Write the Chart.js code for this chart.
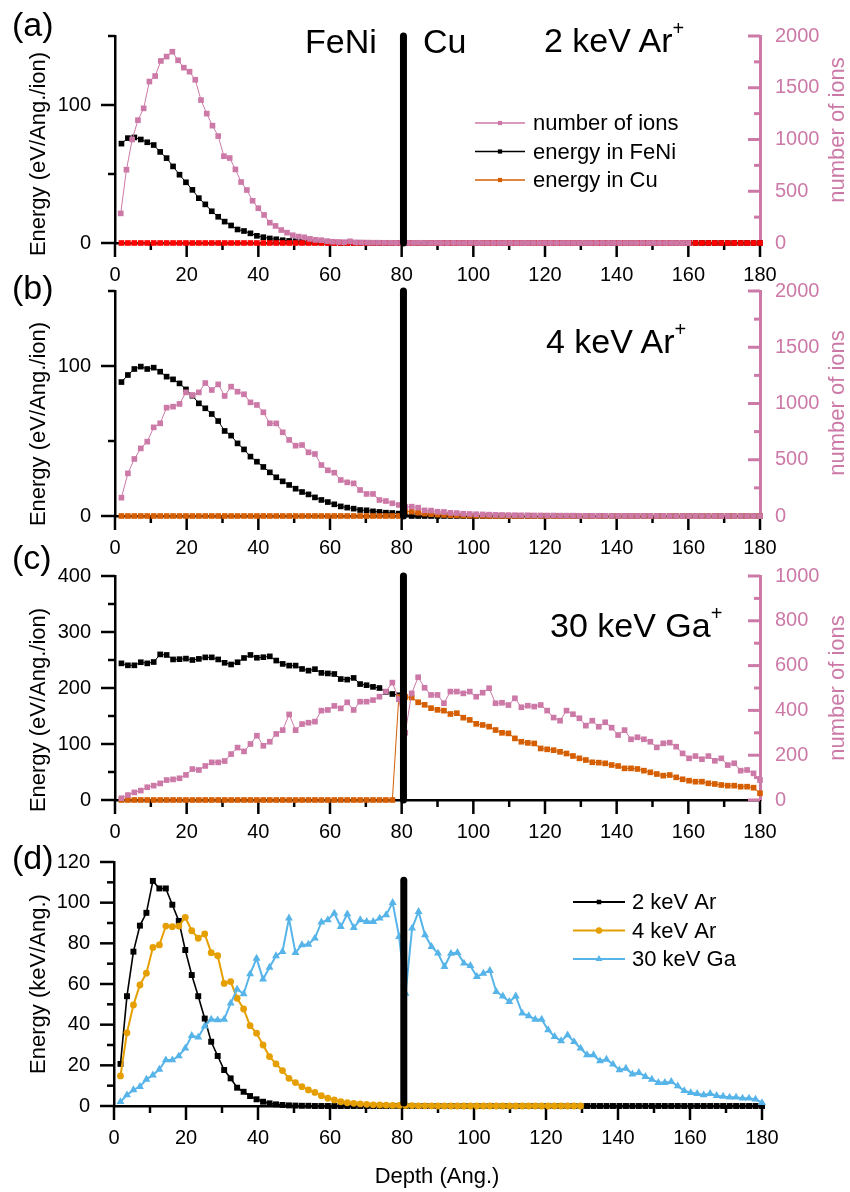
<!DOCTYPE html>
<html>
<head>
<meta charset="utf-8">
<script src="https://cdn.jsdelivr.net/npm/chart.js@4.4.1/dist/chart.umd.min.js"></script>
<style>
html,body{margin:0;padding:0;background:#fff;}
#fig{position:relative;width:850px;height:1192px;overflow:hidden;font-family:"Liberation Sans",Arial,sans-serif;}
#fig canvas{position:absolute;left:0;top:0;}
.t{position:absolute;white-space:nowrap;line-height:1;color:#000;}
.rot{transform:translate(-50%,-50%) rotate(-90deg);font-size:22px;}
.pk{color:#CC79A7;}
</style>
</head>
<body>
<div id="fig">
  <canvas id="pa" width="850" height="1192"></canvas>
  <canvas id="pb" width="850" height="1192"></canvas>
  <canvas id="pc" width="850" height="1192"></canvas>
  <canvas id="pd" width="850" height="1192"></canvas>

  <div class="t" style="left:12px;top:7.2px;font-size:34px;">(a)</div>
  <div class="t" style="left:12px;top:270.2px;font-size:34px;">(b)</div>
  <div class="t" style="left:12px;top:540.2px;font-size:34px;">(c)</div>
  <div class="t" style="left:12px;top:840.2px;font-size:34px;">(d)</div>

  <div class="t" style="left:305px;top:24.2px;font-size:34px;">FeNi</div>
  <div class="t" style="left:423px;top:24.2px;font-size:34px;">Cu</div>
  <div class="t" style="left:544px;top:23.2px;font-size:34px;">2 keV Ar<span style="font-size:20px;position:relative;top:-17px;">+</span></div>
  <div class="t" style="left:546px;top:324.2px;font-size:34px;">4 keV Ar<span style="font-size:20px;position:relative;top:-17px;">+</span></div>
  <div class="t" style="left:550px;top:608.2px;font-size:34px;">30 keV Ga<span style="font-size:20px;position:relative;top:-17px;">+</span></div>

  <div class="t rot" style="left:38px;top:154px;">Energy (eV/Ang./ion)</div>
  <div class="t rot" style="left:38px;top:424px;">Energy (eV/Ang./ion)</div>
  <div class="t rot" style="left:38px;top:710px;">Energy (eV/Ang./ion)</div>
  <div class="t rot" style="left:38px;top:984px;">Energy (keV/Ang.)</div>

  <div class="t rot pk" style="left:837px;top:130px;">number of ions</div>
  <div class="t rot pk" style="left:837px;top:403px;">number of ions</div>
  <div class="t rot pk" style="left:837px;top:688px;">number of ions</div>

  <div class="t" style="left:437px;top:1165.4px;font-size:22px;transform:translateX(-50%);">Depth (Ang.)</div>
</div>

<script>
// ---- depth bins (Ang.) ----
const depthBins18 = [1.8,3.6,5.4,7.2,9,10.8,12.6,14.4,16.2,18,
  19.8,21.6,23.4,25.2,27,28.8,30.6,32.4,34.2,36,
  37.8,39.6,41.4,43.2,45,46.8,48.6,50.4,52.2,54,
  55.8,57.6,59.4,61.2,63,64.8,66.6,68.4,70.2,72,
  73.8,75.6,77.4,79.2,81,82.8,84.6,86.4,88.2,90,
  91.8,93.6,95.4,97.2,99,100.8,102.6,104.4,106.2,108,
  109.8,111.6,113.4,115.2,117,118.8,120.6,122.4,124.2,126,
  127.8,129.6,131.4,133.2,135,136.8,138.6,140.4,142.2,144,
  145.8,147.6,149.4,151.2,153,154.8,156.6,158.4,160.2,162,
  163.8,165.6,167.4,169.2,171,172.8,174.6,176.4,178.2,180];
const depthBins16 = [1.6,3.2,4.8,6.4,8,9.6,11.2,12.8,14.4,16,
  17.6,19.2,20.8,22.4,24,25.6,27.2,28.8,30.4,32,
  33.6,35.2,36.8,38.4,40,41.6,43.2,44.8,46.4,48,
  49.6,51.2,52.8,54.4,56,57.6,59.2,60.8,62.4,64,
  65.6,67.2,68.8,70.4,72,73.6,75.2,76.8,78.4,80,
  81.6,83.2,84.8,86.4,88,89.6,91.2,92.8,94.4,96,
  97.6,99.2,100.8,102.4,104,105.6,107.2,108.8,110.4,112,
  113.6,115.2,116.8,118.4,120,121.6,123.2,124.8,126.4,128,
  129.6,131.2,132.8,134.4,136,137.6,139.2,140.8,142.4,144,
  145.6,147.2,148.8,150.4,152,153.6,155.2,156.8,158.4,160];

// ---- tick values ----
const depthTicks = [0,20,40,60,80,100,120,140,160,180];
const depthMinor = [10,30,50,70,90,110,130,150,170];
const energyTicksAB = [0,100];
const energyMinorAB = [50,150];
const ionTicksAB = [0,500,1000,1500,2000];
const ionMinorAB = [250,750,1250,1750];
const energyTicksC = [0,100,200,300,400];
const energyMinorC = [50,150,250,350];
const ionTicksC = [0,200,400,600,800,1000];
const ionMinorC = [100,300,500,700,900];
const energyTicksD = [0,20,40,60,80,100,120];
const energyMinorD = [10,30,50,70,90,110];

// FeNi / Cu interface
const interfaceDepth = 80.5;
const interfaceSpanAB = [0,150];
const interfaceSpanC = [0,400];
const interfaceSpanD = [1.5,111];

// ---- (a) 2 keV Ar+ ----
const feniA = [72,76,76.5,75,73,71,66,61.5,55.5,49.5,
  44,38.5,32.5,28,23,19,15.5,12.7,9.8,8.7,
  7,5.2,4.2,3.3,2.7,2,1.5,1.3,1,0.7,
  0.5,0.4,0.3,0.2,0.1,0.1,0,0,0,0,
  0,0,0,0,0,0,0,0,0,0,
  0,0,0,0,0,0,0,0,0,0,
  0,0,0,0,0,0,0,0,0,0,
  0,0,0,0,0,0,0,0,0,0,
  0,0,0,0,0,0,0,0,0,0,
  0,0,0,0,0,0,0,0,0,0];
const cuA = [0,0,0,0,0,0,0,0,0,0,
  0,0,0,0,0,0,0,0,0,0,
  0,0,0,0,0,0,0,0,0,0,
  0,0,0,0,0,0,0,0,0,0,
  0,0,0,0,0,0,0,0,0,0,
  0,0,0,0,0,0,0,0,0,0,
  0,0,0,0,0,0,0,0,0,0,
  0,0,0,0,0,0,0,0,0,0,
  0,0,0,0,0,0,0,0,0,0,
  0,0,0,0,0,0,0,0,0,0];
const ionsA = [286,708,1000,1187,1301,1560,1613,1759,1801,1848,
  1765,1694,1655,1577,1381,1250,1134,1033,839,821,
  711,589,512,408,336,271,196,165,125,100,
  75,62,55,40,30,27,18,12,10,8,
  16,6,5,4,3,3,2,2,1,2,
  1,1,2,1,0,1,0,0,1,0,
  0,1,0,0,0,0,0,0,0,0,
  0,0,0,0,0,0,0,0,0,0,
  0,0,0,0,0,0,0,0,0,0,
  0,0,0,0,0,0,0,0,0,0];

// ---- (b) 4 keV Ar+ ----
const feniB = [89.3,94,98,99.6,98,98.9,96.2,92.9,91.1,88.4,
  84.4,80.2,75.1,71.8,68,63.3,56.7,53.6,48.4,44.4,
  39.6,36.2,32.7,29.1,25.8,23.1,20.7,18.2,16,14.4,
  12.4,10.7,9.3,7.8,6.4,5.6,4.9,4,3.8,3.1,
  2.7,2.2,2,1.6,1.2,0,0,0,0,0,
  0,0,0,0,0,0,0,0,0,0,
  0,0,0,0,0,0,0,0,0,0,
  0,0,0,0,0,0,0,0,0,0,
  0,0,0,0,0,0,0,0,0,0,
  0,0,0,0,0,0,0,0,0,0];
const cuB = [0,0,0,0,0,0,0,0,0,0,
  0,0,0,0,0,0,0,0,0,0,
  0,0,0,0,0,0,0,0,0,0,
  0,0,0,0,0,0,0,0,0,0,
  0,0,0,0,3,2.9,2.2,1.6,1.2,0.9,
  0.7,0.5,0.4,0.3,0.2,0.2,0.1,0,0,0,
  0,0,0,0,0,0,0,0,0,0,
  0,0,0,0,0,0,0,0,0,0,
  0,0,0,0,0,0,0,0,0,0,
  0,0,0,0,0,0,0,0,0,0];
const ionsB = [163,379,507,601,661,788,824,963,972,996,
  1099,1075,1099,1182,1120,1170,1067,1150,1105,1082,
  1010,987,922,824,823,744,676,625,631,566,
  551,453,406,385,320,299,290,231,196,196,
  142,133,113,98,80,83,74,50,48,38,
  36,28,26,20,18,16,14,12,10,9,
  8,7,6,6,5,5,4,4,3,3,
  3,2,2,2,2,2,1,1,1,1,
  1,1,1,1,1,0,0,0,0,0,
  0,0,0,0,0,0,0,0,0,0];

// ---- (c) 30 keV Ga+ ----
const feniC = [244,240.5,240.5,246,244,246.4,260,259,251,251.5,
  252.5,250,252,254.7,254.7,251,245,242,246,253.6,
  259,254,255,256.5,249,243,240,240,234,231,
  233.6,227,226,225,216,215,218,207,205,202,
  200,193,189.3,187];
const cuC = [0,0,0,0,0,0,0,0,0,0,
  0,0,0,0,0,0,0,0,0,0,
  0,0,0,0,0,0,0,0,0,0,
  0,0,0,0,0,0,0,0,0,0,
  0,0,0,184,184,183,174.5,170,164,161,
  159.5,153.6,155,147,143,136,134,131,125,120,
  119,110,104,102,101,92,90.5,89,86,83,
  78.6,74.4,71.4,67.3,66.7,65.5,62.5,60.7,56.5,56.5,
  55.4,52.4,49.4,46.4,43.5,44.6,40.5,37,34.5,32.7,
  32.7,29.8,28.6,26.8,25.6,25.6,23.8,23.8,22,12];
const ionsC = [8,22,34,42,57,64,74,89,92,97,
  112,138,134,152,168,168,174,205,234,217,
  250,287,242,260,295,312,382,312,339,345,
  350,399,402,420,409,436,402,439,439,446,
  461,484,524,450,300,476,548,501,469,469,
  432,484,484,476,484,461,479,499,432,434,
  424,454,414,421,417,424,399,368,354,399,
  383,365,332,354,327,347,323,290,312,271,
  280,271,260,235,253,256,238,208,186,196,
  182,196,175,186,156,164,131,134,119,89];

// ---- (d) deposited energy per ion species ----
const ar2keV = [20.7,54,75.9,88.7,95,110.7,107,107,99,91,
  76.7,64.4,54,43,31.6,24.6,17.7,13.6,9,7,
  4.9,3.3,2.1,1.3,0.8,0.5,0.3,0.2,0.1,0.1,
  0,0,0,0,0,0,0,0,0,0,
  0,0,0,0,0,0,0,0,0,0,
  0,0,0,0,0,0,0,0,0,0,
  0,0,0,0,0,0,0,0,0,0,
  0,0,0,0,0,0,0,0,0,0,
  0,0,0,0,0,0,0,0,0,0,
  0,0,0,0,0,0,0,0,0,0];
const ar4keV = [14.8,36,49.7,59.5,65.3,78,79.2,88.5,88.2,88.5,
  92.8,86.2,82.5,84.6,75.4,73.9,60.3,61.2,53,47.7,
  39.5,35.8,30,24.3,20.7,17.4,13.6,11.5,9.5,7.9,
  6.7,5.1,3.8,3,2.1,1.6,1.3,1,0.8,0.6,
  0.5,0.4,0.3,0.3,0.2,0.2,0.1,0.1,0.1,0,
  0,0,0,0,0,0,0,0,0,0,
  0,0,0,0,0,0,0,0,0,0,
  0,0];
const ga30keV = [2.1,5.4,7.9,9.5,13.1,15.2,18,22.6,22.6,24.6,
  28.4,34.6,33.8,39.3,42.6,42.3,42.6,50.5,57.4,55.1,
  64.9,72.6,62.3,68.2,73.8,75.9,92.3,75.4,79.2,79.5,
  82.5,90.4,91.5,94.8,88.2,94.4,87.7,91.5,90.7,90.7,
  92.3,94,100,83.3,55.4,87.4,95.6,84.1,78.4,75.1,
  68.5,75,75.4,70.2,69,63.6,65.2,66.6,56.2,54,
  51.3,54,45.6,44.3,42.6,42.6,37.4,34.1,32,34.9,
  31.6,28.4,25.1,25.1,22.1,22.9,20.5,17.7,18.5,15.7,
  16.4,14.4,13.1,11.5,11.5,12,9.8,7.5,6.5,6.1,
  5.4,6.1,5.1,4.7,4.3,4.3,3.8,3.8,3.3,1.6];

// ---- styling ----
const FONT = '"Liberation Sans", Arial, sans-serif';
const PINK = '#CC79A7';
const VERMILION = '#D55E00';
const RED = '#FF0000';
const ORANGE = '#E69F00';
const SKY = '#56B4E9';

const pts = (depth, values) => values.map((v, k) => ({x: depth[k], y: v}));

function fixedTicks(values) {
  return s => { s.ticks = values.map(v => ({value: v})); };
}

function depthAxis() {
  return {
    type: 'linear', position: 'bottom', min: 0, max: 180,
    grid: {display: false, drawTicks: false},
    border: {display: true, color: '#000', width: 2.5},
    afterBuildTicks: fixedTicks(depthTicks),
    afterFit: s => { s.height = 40; },
    ticks: {autoSkip: false, maxRotation: 0, padding: 20, color: '#000',
      font: {family: FONT, size: 20}, callback: v => String(v)}
  };
}

function energyAxis(max, ticks, width) {
  return {
    type: 'linear', position: 'left', min: 0, max: max,
    grid: {display: false, drawTicks: false},
    border: {display: true, color: '#000', width: 2.5},
    afterBuildTicks: fixedTicks(ticks),
    afterFit: s => { s.width = width; },
    ticks: {padding: 24, color: '#000', font: {family: FONT, size: 20}, callback: v => String(v)}
  };
}

function ionAxis(max, ticks) {
  return {
    type: 'linear', position: 'right', min: 0, max: max,
    grid: {display: false, drawTicks: false},
    border: {display: true, color: PINK, width: 3},
    afterBuildTicks: fixedTicks(ticks),
    afterFit: s => { s.width = 90; },
    ticks: {padding: 15, color: PINK, font: {family: FONT, size: 20}, callback: v => String(v)}
  };
}

function series(label, depth, values, color, extra) {
  return Object.assign({
    label: label, data: pts(depth, values),
    borderColor: color, backgroundColor: color, pointBackgroundColor: color,
    borderWidth: 1, pointBorderWidth: 0, pointStyle: 'rect', pointRadius: 4,
    clip: false, yAxisID: 'y'
  }, extra || {});
}

function interfaceLine(span) {
  return {
    label: 'interface', data: [{x: interfaceDepth, y: span[0]}, {x: interfaceDepth, y: span[1]}],
    borderColor: '#000', borderWidth: 7, borderCapStyle: 'round', pointRadius: 0,
    clip: false, yAxisID: 'y', order: 0
  };
}

// axis tick marks (major and minor) placed through the scales
function tickMarks(items) {
  return {
    id: 'tickMarks',
    beforeDatasetsDraw(chart) {
      const ctx = chart.ctx;
      items.forEach(it => {
        const s = chart.scales[it.scale];
        ctx.save();
        ctx.strokeStyle = it.color;
        ctx.lineWidth = it.width;
        it.values.forEach(v => {
          const p = s.getPixelForValue(v);
          ctx.beginPath();
          if (s.isHorizontal()) { ctx.moveTo(p, s.top); ctx.lineTo(p, s.top + it.len); }
          else if (s.position === 'left') { ctx.moveTo(s.right, p); ctx.lineTo(s.right - it.len, p); }
          else { ctx.moveTo(s.left, p); ctx.lineTo(s.left - it.len, p); }
          ctx.stroke();
        });
        ctx.restore();
      });
    }
  };
}

// line + marker series key
function seriesKey(cfg) {
  return {
    id: 'seriesKey',
    afterDraw(chart) {
      const ctx = chart.ctx;
      ctx.save();
      cfg.rows.forEach((row, k) => {
        const ds = chart.data.datasets[row.index];
        const y = cfg.y0 + k * cfg.dy;
        ctx.strokeStyle = ds.borderColor;
        ctx.lineWidth = cfg.lineWidth;
        ctx.beginPath(); ctx.moveTo(cfg.x0, y); ctx.lineTo(cfg.x1, y); ctx.stroke();
        ctx.fillStyle = row.marker || ds.borderColor;
        Chart.helpers.drawPoint(ctx, {pointStyle: ds.pointStyle, radius: row.r, borderWidth: 0, rotation: 0},
          (cfg.x0 + cfg.x1) / 2, y);
        ctx.fillStyle = '#000';
        ctx.font = '22px ' + FONT;
        ctx.textBaseline = 'middle';
        ctx.textAlign = 'left';
        ctx.fillText(ds.label, cfg.tx, y + 1);
      });
      ctx.restore();
    }
  };
}

function baseOptions(padding, scales) {
  return {
    responsive: false, animation: false, events: [], devicePixelRatio: 1,
    layout: {padding: padding},
    plugins: {legend: {display: false}, tooltip: {enabled: false}},
    scales: scales
  };
}

function standardTicks(energyMajor, energyMinor, ionMajor, ionMinor) {
  return tickMarks([
    {scale: 'x', values: depthTicks, len: 14, color: '#000', width: 2.5},
    {scale: 'x', values: depthMinor, len: 7, color: '#000', width: 2.5},
    {scale: 'y', values: energyMajor, len: 14, color: '#000', width: 2.5},
    {scale: 'y', values: energyMinor, len: 7, color: '#000', width: 2.5},
    {scale: 'y2', values: ionMajor, len: 12, color: PINK, width: 3},
    {scale: 'y2', values: ionMinor, len: 6, color: PINK, width: 3}
  ]);
}

// ---- (a) ----
new Chart(document.getElementById('pa'), {
  type: 'line',
  data: {datasets: [
    series('number of ions', depthBins16, ionsA, PINK, {yAxisID: 'y2', order: 1}),
    series('energy in FeNi', depthBins18, feniA, '#000', {order: 3}),
    series('energy in Cu', depthBins18, cuA, VERMILION, {order: 2, pointBackgroundColor: RED}),
    interfaceLine(interfaceSpanAB)
  ]},
  options: baseOptions({top: 19, bottom: 909, left: 0, right: 0}, {
    x: depthAxis(), y: energyAxis(150, energyTicksAB, 115), y2: ionAxis(2000, ionTicksAB)
  }),
  plugins: [standardTicks(energyTicksAB, energyMinorAB, ionTicksAB, ionMinorAB),
    seriesKey({x0: 475, x1: 525, tx: 533, y0: 123, dy: 28.5, lineWidth: 1.5,
      rows: [{index: 0, r: 3}, {index: 1, r: 3}, {index: 2, r: 3}]})]
});

// ---- (b) ----
new Chart(document.getElementById('pb'), {
  type: 'line',
  data: {datasets: [
    series('number of ions', depthBins18, ionsB, PINK, {yAxisID: 'y2', order: 1}),
    series('energy in FeNi', depthBins18, feniB, '#000', {order: 3}),
    series('energy in Cu', depthBins18, cuB, VERMILION, {order: 2}),
    interfaceLine(interfaceSpanAB)
  ]},
  options: baseOptions({top: 291, bottom: 636, left: 0, right: 0}, {
    x: depthAxis(), y: energyAxis(150, energyTicksAB, 115), y2: ionAxis(2000, ionTicksAB)
  }),
  plugins: [standardTicks(energyTicksAB, energyMinorAB, ionTicksAB, ionMinorAB)]
});

// ---- (c) ----
new Chart(document.getElementById('pc'), {
  type: 'line',
  data: {datasets: [
    series('number of ions', depthBins18, ionsC, PINK, {yAxisID: 'y2', order: 1}),
    series('energy in FeNi', depthBins18, feniC, '#000', {order: 3}),
    series('energy in Cu', depthBins18, cuC, VERMILION, {order: 2}),
    interfaceLine(interfaceSpanC)
  ]},
  options: baseOptions({top: 576, bottom: 352, left: 0, right: 0}, {
    x: depthAxis(), y: energyAxis(400, energyTicksC, 115), y2: ionAxis(1000, ionTicksC)
  }),
  plugins: [standardTicks(energyTicksC, energyMinorC, ionTicksC, ionMinorC)]
});

// ---- (d) ----
new Chart(document.getElementById('pd'), {
  type: 'line',
  data: {datasets: [
    series('2 keV Ar', depthBins18, ar2keV, '#000', {order: 3, borderWidth: 1.6, pointRadius: 4.2}),
    series('4 keV Ar', depthBins18, ar4keV, ORANGE, {order: 2, borderWidth: 2, pointStyle: 'circle', pointRadius: 3.4}),
    series('30 keV Ga', depthBins18, ga30keV, SKY, {order: 1, borderWidth: 2, pointStyle: 'triangle', pointRadius: 4.6}),
    interfaceLine(interfaceSpanD)
  ]},
  options: baseOptions({top: 862, bottom: 46, left: 0, right: 88}, {
    x: depthAxis(), y: energyAxis(120, energyTicksD, 114)
  }),
  plugins: [tickMarks([
      {scale: 'x', values: depthTicks, len: 14, color: '#000', width: 2.5},
      {scale: 'x', values: depthMinor, len: 7, color: '#000', width: 2.5},
      {scale: 'y', values: energyTicksD, len: 14, color: '#000', width: 2.5},
      {scale: 'y', values: energyMinorD, len: 7, color: '#000', width: 2.5}
    ]),
    seriesKey({x0: 573, x1: 625, tx: 632, y0: 902, dy: 28.5, lineWidth: 2,
      rows: [{index: 0, r: 3.2}, {index: 1, r: 3.2}, {index: 2, r: 4}]})]
});
</script>
</body>
</html>
